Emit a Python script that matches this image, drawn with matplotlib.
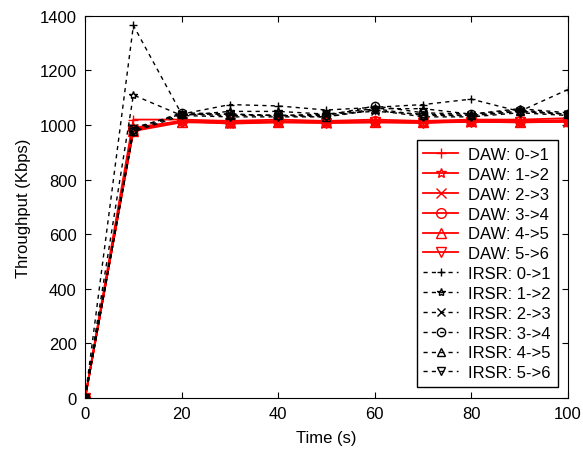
import matplotlib
matplotlib.use("Agg")
import matplotlib.pyplot as plt

plt.rcParams['font.family'] = ['Liberation Sans', 'DejaVu Sans']

time = [0, 10, 20, 30, 40, 50, 60, 70, 80, 90, 100]

daw_labels = ["DAW: 0->1", "DAW: 1->2", "DAW: 2->3", "DAW: 3->4", "DAW: 4->5", "DAW: 5->6"]
irsr_labels = ["IRSR: 0->1", "IRSR: 1->2", "IRSR: 2->3", "IRSR: 3->4", "IRSR: 4->5", "IRSR: 5->6"]

daw_01 = [0, 1020, 1020, 1015, 1020, 1015, 1020, 1015, 1020, 1020, 1025]
daw_12 = [0, 990, 1015, 1005, 1010, 1010, 1012, 1008, 1015, 1012, 1015]
daw_23 = [0, 985, 1012, 1008, 1012, 1008, 1010, 1010, 1012, 1010, 1012]
daw_34 = [0, 985, 1015, 1010, 1015, 1010, 1015, 1012, 1015, 1015, 1018]
daw_45 = [0, 980, 1012, 1010, 1012, 1010, 1012, 1010, 1015, 1012, 1015]
daw_56 = [0, 978, 1010, 1008, 1010, 1008, 1010, 1008, 1012, 1010, 1012]

irsr_01 = [0, 1365, 1040, 1075, 1070, 1055, 1065, 1075, 1095, 1050, 1130]
irsr_12 = [0, 1110, 1035, 1050, 1050, 1040, 1060, 1060, 1040, 1060, 1045]
irsr_23 = [0, 990, 1040, 1040, 1035, 1040, 1050, 1040, 1035, 1050, 1040]
irsr_34 = [0, 985, 1045, 1040, 1035, 1035, 1070, 1045, 1040, 1055, 1040]
irsr_45 = [0, 980, 1040, 1035, 1035, 1030, 1060, 1035, 1035, 1050, 1040]
irsr_56 = [0, 975, 1035, 1030, 1030, 1030, 1055, 1030, 1030, 1045, 1035]

daw_series = [daw_01, daw_12, daw_23, daw_34, daw_45, daw_56]
irsr_series = [irsr_01, irsr_12, irsr_23, irsr_34, irsr_45, irsr_56]
markers = ['+', '*', 'x', 'o', '^', 'v']

fig = plt.figure(figsize=(5.83, 4.56), dpi=100)
ax = fig.add_axes([0.146, 0.125, 0.828, 0.838])

for lab, ys, m in zip(daw_labels, daw_series, markers):
    ax.plot(time, ys, color='red', lw=1.3, marker=m, markersize=7,
            markerfacecolor='none', markeredgecolor='red', markeredgewidth=1.0, label=lab)
for lab, ys, m in zip(irsr_labels, irsr_series, markers):
    ax.plot(time, ys, color='black', lw=1.0, ls=(0, (3, 3)), marker=m, markersize=6,
            markerfacecolor='none', markeredgecolor='black', markeredgewidth=1.0, label=lab)

ax.set_xlim(0, 100)
ax.set_ylim(0, 1400)
ax.set_xticks(range(0, 101, 20))
ax.set_yticks(range(0, 1401, 200))
ax.tick_params(direction='in', length=4, labelsize=12, top=True, right=True, pad=6)
ax.set_xlabel("Time (s)", fontsize=12, labelpad=6)
ax.set_ylabel("Throughput (Kbps)", fontsize=12, labelpad=6)

leg = ax.legend(loc='lower right', bbox_to_anchor=(0.979, 0.029), fontsize=12,
                frameon=True, fancybox=False, edgecolor='black', framealpha=1,
                handlelength=2.1, labelspacing=0.29, borderpad=0.4, handletextpad=0.6,
                borderaxespad=0.0)
leg.get_frame().set_linewidth(1.0)

fig.savefig("out.png", dpi=100)
